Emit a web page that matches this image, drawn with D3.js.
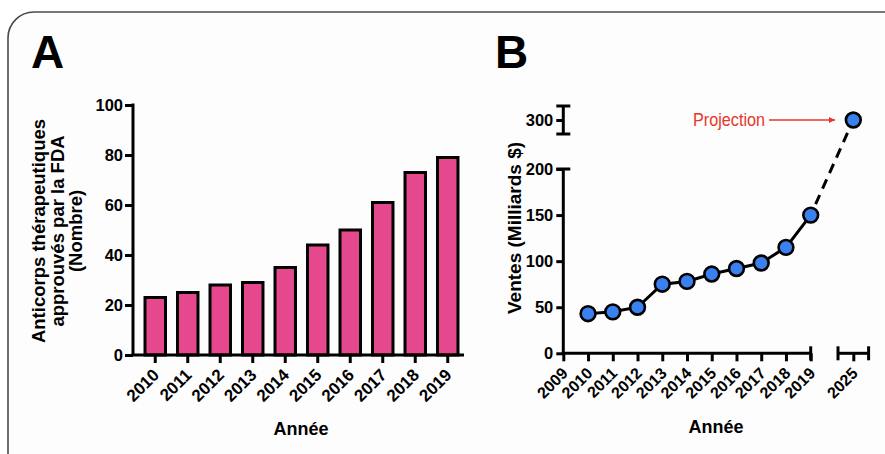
<!DOCTYPE html>
<html>
<head>
<meta charset="utf-8">
<script src="https://cdn.jsdelivr.net/npm/d3@7"></script>
<style>
  body { margin: 0; background: #fff; }
  svg { display: block; font-family: "Liberation Sans", Arial, sans-serif; }
  .axis path, .axis line { stroke: #000; stroke-width: 3; }
  .axis text { font-size: 16.5px; font-weight: bold; fill: #000; }
  .axis.xa text { font-size: 17px; }
  .axis.xb text { font-size: 16px; }
</style>
</head>
<body>
<script>
// Panel A: FDA approved antibodies per year
const yearsA = ["2010","2011","2012","2013","2014","2015","2016","2017","2018","2019"];
const approvals = [23, 25, 28, 29, 35, 44, 50, 61, 73, 79];
const ticksA = [0, 20, 40, 60, 80, 100];

// Panel B: sales (billions $), 2025 is a projection
const yearsB = [2010, 2011, 2012, 2013, 2014, 2015, 2016, 2017, 2018, 2019];
const sales = [43, 45, 50, 75, 78, 86, 92, 98, 115, 150];
const projYear = 2025;
const projValue = 300;
const ticksB = [0, 50, 100, 150, 200];
const ticksBTop = [300];
const xTicksB = [2009, 2010, 2011, 2012, 2013, 2014, 2015, 2016, 2017, 2018, 2019];

const w = 885, h = 454;

const svg = d3.select("body").append("svg")
    .attr("width", w)
    .attr("height", h);

// rounded frame round the figure
svg.append("rect")
    .attr("x", 8).attr("y", 12)
    .attr("width", 905).attr("height", 470)
    .attr("rx", 26)
    .attr("fill", "#fdfdfd")
    .attr("stroke", "#4a4a4a")
    .attr("stroke-width", 1.6);

// ---------- Panel A ----------
const x = d3.scaleBand().domain(yearsA).range([139, 464]).paddingInner(0.37).paddingOuter(0.185);
const y = d3.scaleLinear().domain([0, 100]).range([355, 105]);

const gA = svg.append("g");

gA.selectAll("rect.bar")
    .data(approvals)
    .enter()
    .append("rect")
        .attr("class", "bar")
        .attr("x", (d, i) => x(yearsA[i]))
        .attr("y", d => y(d))
        .attr("width", x.bandwidth())
        .attr("height", d => y(0) - y(d))
        .attr("fill", "#e5488c")
        .attr("stroke", "#000")
        .attr("stroke-width", 3);

gA.append("g")
    .attr("class", "axis")
    .attr("transform", "translate(133,0)")
    .call(d3.axisLeft(y).tickValues(ticksA).tickSize(8).tickPadding(2).tickSizeOuter(0))
    .call(g => g.select(".domain").attr("d", "M0," + (y(100) - 1.5) + "V" + y(0)));

gA.append("g")
    .attr("class", "axis xa")
    .attr("transform", "translate(0,355)")
    .call(d3.axisBottom(x).tickSize(8).tickSizeOuter(0))
    .call(g => g.select(".domain").attr("d", "M131.5,0H464"))
    .selectAll("text")
        .attr("text-anchor", "end")
        .attr("x", 0).attr("y", 0).attr("dy", 0)
        .attr("transform", "translate(5,21) rotate(-45)");

gA.append("text")
    .attr("transform", "translate(45,231) rotate(-90)")
    .attr("text-anchor", "middle")
    .style("font-size", "18.5px")
    .style("font-weight", "bold")
    .selectAll("tspan")
    .data(["Anticorps thérapeutiques", "approuvés par la FDA", "(Nombre)"])
    .enter()
    .append("tspan")
        .attr("x", 0)
        .attr("dy", (d, i) => i === 0 ? 0 : 18.5)
        .text(d => d);

gA.append("text")
    .attr("x", 301).attr("y", 435)
    .attr("text-anchor", "middle")
    .style("font-size", "18px").style("font-weight", "bold")
    .text("Année");

gA.append("text")
    .attr("x", 31).attr("y", 68)
    .style("font-size", "46px").style("font-weight", "bold")
    .text("A");

// ---------- Panel B ----------
const xB = d3.scaleLinear().domain([2009, 2019]).range([563.3, 810.7]);
const xB2 = d3.scaleLinear().domain([2024.38, 2025.62]).range([838, 868.6]);
const yB = d3.scaleLinear().domain([0, 200]).range([353.3, 169]);
const yB2 = d3.scaleLinear().domain([284.8, 315.2]).range([134, 106]);

const gB = svg.append("g");

// lower y segment
gB.append("g")
    .attr("class", "axis")
    .attr("transform", "translate(563.3,0)")
    .call(d3.axisLeft(yB).tickValues(ticksB).tickSize(7).tickPadding(3).tickSizeOuter(0))
    .call(g => g.select(".domain").attr("d", "M0," + yB(200) + "V" + yB(0)));
// upper y segment
gB.append("g")
    .attr("class", "axis")
    .attr("transform", "translate(563.3,0)")
    .call(d3.axisLeft(yB2).tickValues(ticksBTop).tickSize(7).tickPadding(3).tickSizeOuter(0))
    .call(g => g.select(".domain").attr("d", "M0," + yB2.range()[1] + "V" + yB2.range()[0]));

// x segments
gB.append("g")
    .attr("class", "axis xb")
    .attr("transform", "translate(0,353.3)")
    .call(d3.axisBottom(xB).tickValues(xTicksB).tickFormat(d3.format("d")).tickSize(8).tickSizeOuter(0))
    .call(g => g.select(".domain").attr("d", "M561.8,0H" + xB(2019)))
    .selectAll("text")
        .attr("text-anchor", "end")
        .attr("x", 0).attr("y", 0).attr("dy", 0)
        .attr("transform", "translate(5,21) rotate(-45)");

gB.append("g")
    .attr("class", "axis xb")
    .attr("transform", "translate(0,353.3)")
    .call(d3.axisBottom(xB2).tickValues([projYear]).tickFormat(d3.format("d")).tickSize(8).tickSizeOuter(0))
    .call(g => g.select(".domain").attr("d", "M" + xB2.range()[0] + ",0H" + xB2.range()[1]))
    .selectAll("text")
        .attr("text-anchor", "end")
        .attr("x", 0).attr("y", 0).attr("dy", 0)
        .attr("transform", "translate(5,21) rotate(-45)");

// break caps
const caps = [
    [563.3 - 7, yB(200), 563.3 + 7, yB(200)],
    [563.3 - 7, yB2.range()[1], 563.3 + 7, yB2.range()[1]],
    [563.3 - 7, yB2.range()[0], 563.3 + 7, yB2.range()[0]],
    [xB(2019), 353.3 - 7, xB(2019), 353.3 + 7],
    [xB2.range()[0], 353.3 - 7, xB2.range()[0], 353.3 + 7],
    [xB2.range()[1], 353.3 - 7, xB2.range()[1], 353.3 + 7]
];
gB.selectAll("line.cap")
    .data(caps)
    .enter()
    .append("line")
        .attr("class", "cap")
        .attr("x1", d => d[0]).attr("y1", d => d[1])
        .attr("x2", d => d[2]).attr("y2", d => d[3])
        .attr("stroke", "#000")
        .attr("stroke-width", 3);

const pts = yearsB.map((yr, i) => [xB(yr), yB(sales[i])]);
const projPt = [xB2(projYear), yB2(projValue)];

gB.append("path")
    .attr("d", d3.line()(pts))
    .attr("fill", "none")
    .attr("stroke", "#000")
    .attr("stroke-width", 3);

gB.append("path")
    .attr("d", d3.line()([pts[pts.length - 1], projPt]))
    .attr("fill", "none")
    .attr("stroke", "#000")
    .attr("stroke-width", 3)
    .attr("stroke-dasharray", "10,7")
    .attr("stroke-dashoffset", -12);

gB.selectAll("circle")
    .data(pts.concat([projPt]))
    .enter()
    .append("circle")
        .attr("cx", d => d[0])
        .attr("cy", d => d[1])
        .attr("r", 7.4)
        .attr("fill", "#3b80ef")
        .attr("stroke", "#000")
        .attr("stroke-width", 2.6);

// projection label and arrow
svg.append("defs").append("marker")
    .attr("id", "arrow")
    .attr("viewBox", "0 0 10 10")
    .attr("refX", 10).attr("refY", 5)
    .attr("markerWidth", 7).attr("markerHeight", 6)
    .attr("markerUnits", "userSpaceOnUse")
    .attr("orient", "auto")
    .append("path")
        .attr("d", "M0,0L10,5L0,10Z")
        .attr("fill", "#e8352b");

gB.append("text")
    .attr("x", 693).attr("y", 126)
    .attr("textLength", 72).attr("lengthAdjust", "spacingAndGlyphs")
    .style("font-size", "19px")
    .style("fill", "#e8352b")
    .text("Projection");

gB.append("line")
    .attr("x1", 769).attr("y1", 120)
    .attr("x2", 835).attr("y2", 120)
    .attr("stroke", "#e8352b")
    .attr("stroke-width", 1.6)
    .attr("marker-end", "url(#arrow)");

gB.append("text")
    .attr("transform", "translate(521,228) rotate(-90)")
    .attr("text-anchor", "middle")
    .style("font-size", "19px").style("font-weight", "bold")
    .text("Ventes (Milliards $)");

gB.append("text")
    .attr("x", 716).attr("y", 433)
    .attr("text-anchor", "middle")
    .style("font-size", "18px").style("font-weight", "bold")
    .text("Année");

gB.append("text")
    .attr("x", 495).attr("y", 68)
    .style("font-size", "46px").style("font-weight", "bold")
    .text("B");
</script>
</body>
</html>
